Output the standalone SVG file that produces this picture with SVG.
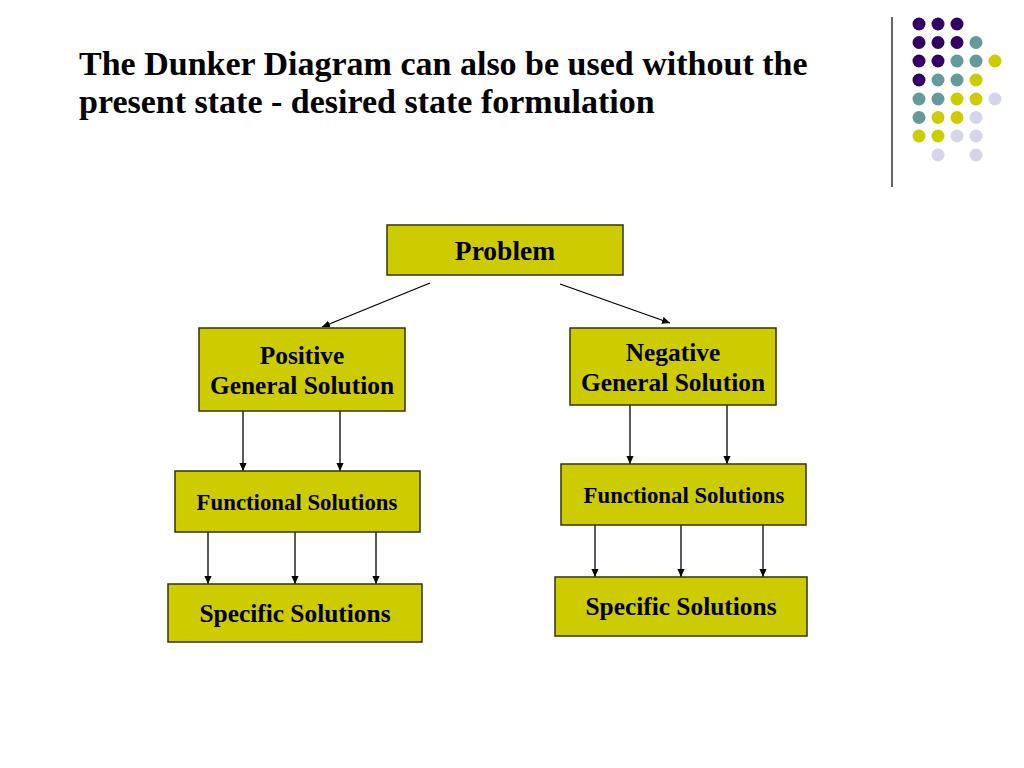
<svg xmlns="http://www.w3.org/2000/svg" width="1024" height="768" viewBox="0 0 1024 768">
<style>
.box{fill:#cccc00;stroke:#333300;stroke-width:1.5}
.t{font-family:"Liberation Serif","Times New Roman",serif;font-weight:bold;fill:#000;text-anchor:middle}
.title{font-family:"Liberation Serif","Times New Roman",serif;font-weight:bold;font-size:34px;fill:#000}
.c{stroke:#000;stroke-width:1.3;fill:none;marker-end:url(#ah)}
.p{fill:#330066}.g{fill:#669999}.y{fill:#cccc00}.l{fill:#d5d5ea}
</style>
<defs>
<marker id="ah" viewBox="0 0 10 10" refX="10" refY="5" markerWidth="8" markerHeight="8" markerUnits="userSpaceOnUse" orient="auto">
<path d="M0,0.5 L10,5 L0,9.5 z" fill="#000"/>
</marker>
</defs>
<rect width="1024" height="768" fill="#fff"/>
<g id="decoration">
<line x1="892" y1="17" x2="892" y2="187" stroke="#333" stroke-width="1.5"/>
<circle class="p" cx="919" cy="24" r="6.5"/><circle class="p" cx="938" cy="24" r="6.5"/><circle class="p" cx="957" cy="24" r="6.5"/>
<circle class="p" cx="919" cy="42.5" r="6.5"/><circle class="p" cx="938" cy="42.5" r="6.5"/><circle class="p" cx="957" cy="42.5" r="6.5"/><circle class="g" cx="976" cy="42.5" r="6.5"/>
<circle class="p" cx="919" cy="61" r="6.5"/><circle class="p" cx="938" cy="61" r="6.5"/><circle class="g" cx="957" cy="61" r="6.5"/><circle class="g" cx="976" cy="61" r="6.5"/><circle class="y" cx="995" cy="61" r="6.5"/>
<circle class="p" cx="919" cy="80" r="6.5"/><circle class="g" cx="938" cy="80" r="6.5"/><circle class="g" cx="957" cy="80" r="6.5"/><circle class="y" cx="976" cy="80" r="6.5"/>
<circle class="g" cx="919" cy="99" r="6.5"/><circle class="g" cx="938" cy="99" r="6.5"/><circle class="y" cx="957" cy="99" r="6.5"/><circle class="y" cx="976" cy="99" r="6.5"/><circle class="l" cx="995" cy="99" r="6.5"/>
<circle class="g" cx="919" cy="117.5" r="6.5"/><circle class="y" cx="938" cy="117.5" r="6.5"/><circle class="y" cx="957" cy="117.5" r="6.5"/><circle class="l" cx="976" cy="117.5" r="6.5"/>
<circle class="y" cx="919" cy="136" r="6.5"/><circle class="y" cx="938" cy="136" r="6.5"/><circle class="l" cx="957" cy="136" r="6.5"/><circle class="l" cx="976" cy="136" r="6.5"/>
<circle class="l" cx="938" cy="155" r="6.5"/><circle class="l" cx="976" cy="155" r="6.5"/>
</g>
<g id="title">
<text class="title" x="79" y="75">The Dunker Diagram can also be used without the</text>
<text class="title" x="79" y="113">present state - desired state formulation</text>
</g>
<g id="connectors">
<line class="c" x1="430" y1="283" x2="322" y2="327"/>
<line class="c" x1="560" y1="284" x2="670" y2="323"/>
<line class="c" x1="243" y1="411" x2="243" y2="471"/>
<line class="c" x1="340" y1="411" x2="340" y2="471"/>
<line class="c" x1="630" y1="405" x2="630" y2="464"/>
<line class="c" x1="727" y1="405" x2="727" y2="464"/>
<line class="c" x1="208" y1="532" x2="208" y2="584"/>
<line class="c" x1="295" y1="532" x2="295" y2="584"/>
<line class="c" x1="376" y1="532" x2="376" y2="584"/>
<line class="c" x1="595" y1="525" x2="595" y2="577"/>
<line class="c" x1="681" y1="525" x2="681" y2="577"/>
<line class="c" x1="763" y1="525" x2="763" y2="577"/>
</g>
<g id="problem">
<rect class="box" x="387" y="225" width="236" height="50"/>
<text class="t" x="505" y="260" font-size="27.5">Problem</text>
</g>
<g id="positive">
<rect class="box" x="199" y="328" width="206" height="83"/>
<text class="t" x="302" y="364" font-size="25.4">Positive</text>
<text class="t" x="302" y="394" font-size="25.4">General Solution</text>
</g>
<g id="negative">
<rect class="box" x="570" y="328" width="206" height="77"/>
<text class="t" x="673" y="361" font-size="25.4">Negative</text>
<text class="t" x="673" y="391" font-size="25.4">General Solution</text>
</g>
<g id="functional-left">
<rect class="box" x="175" y="471" width="245" height="61"/>
<text class="t" x="297" y="510" font-size="22.8">Functional Solutions</text>
</g>
<g id="functional-right">
<rect class="box" x="561" y="464" width="245" height="61"/>
<text class="t" x="684" y="503" font-size="22.8">Functional Solutions</text>
</g>
<g id="specific-left">
<rect class="box" x="168" y="584" width="254" height="58"/>
<text class="t" x="295" y="622" font-size="25.4">Specific Solutions</text>
</g>
<g id="specific-right">
<rect class="box" x="555" y="577" width="252" height="59"/>
<text class="t" x="681" y="615" font-size="25.4">Specific Solutions</text>
</g>
</svg>
